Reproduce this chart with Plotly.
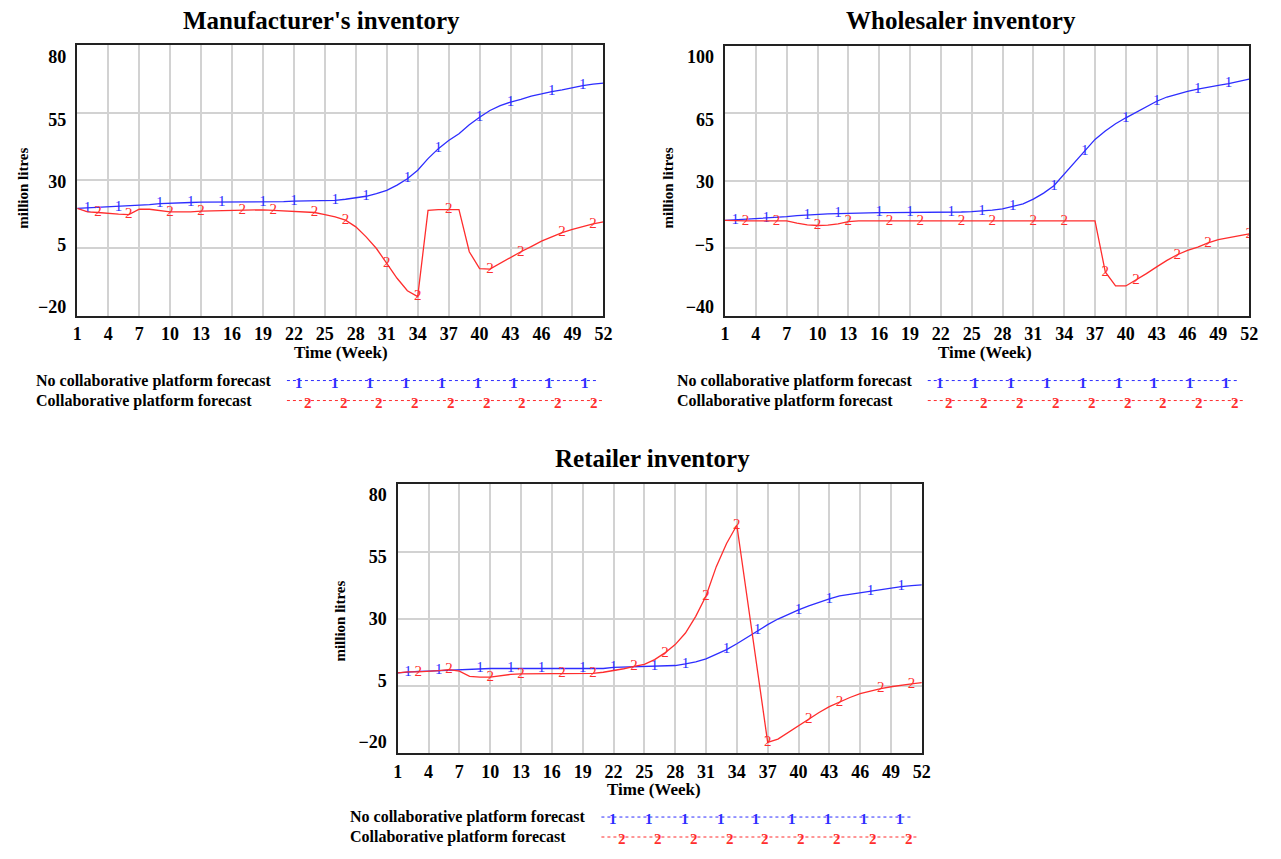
import plotly.graph_objects as go

weeks = list(range(1, 53))

# Manufacturer's inventory (million litres)
manu_no_collab = [19.6, 19.8, 19.9, 20.0, 20.2, 20.4, 20.7, 21.0, 21.4, 21.6, 21.7, 21.8, 21.9,
                  21.9, 21.9, 21.9, 21.9, 21.9, 21.9, 22.0, 22.1, 22.3, 22.4, 22.5, 22.5, 22.6,
                  23.0, 23.5, 24.1, 25.1, 26.3, 28.2, 30.6, 33.7, 38.0, 41.7, 44.7, 47.2, 50.5,
                  53.3, 55.8, 57.6, 58.9, 59.9, 61.1, 61.9, 62.8, 63.4, 64.2, 65.0, 65.5, 65.9]
manu_collab = [19.6, 18.3, 18.1, 17.7, 17.5, 17.3, 19.3, 19.3, 18.9, 18.3, 18.3, 18.3, 18.6,
               18.7, 18.8, 18.9, 19.1, 19.1, 19.1, 18.9, 18.7, 18.6, 18.4, 18.1, 17.3, 16.5,
               15.3, 12.8, 9.1, 4.8, -0.7, -6.2, -10.8, -13.0, 18.9, 19.2, 19.2, 19.2, 3.6,
               -2.6, -2.8, -0.7, 1.7, 3.6, 5.5, 7.5, 9.1, 10.7, 11.9, 13.0, 13.9, 14.6]

# Wholesaler inventory (million litres)
whole_no_collab = [9.4, 9.7, 10.0, 10.3, 10.6, 11.0, 11.4, 11.9, 12.3, 12.6, 12.8, 13.0, 13.2,
                   13.3, 13.4, 13.5, 13.5, 13.5, 13.5, 13.6, 13.6, 13.7, 13.7, 13.8, 14.0, 14.3,
                   14.8, 15.4, 16.6, 18.0, 20.5, 23.6, 27.4, 33.4, 39.5, 45.5, 51.5, 55.8, 59.6,
                   62.7, 65.6, 68.7, 71.3, 73.5, 75.1, 76.4, 77.6, 78.7, 79.5, 80.4, 81.6, 82.8]
whole_collab = [9.4, 9.2, 9.2, 9.2, 9.2, 9.2, 9.2, 8.0, 7.1, 6.8, 7.0, 7.6, 8.8,
                9.2, 9.2, 9.2, 9.2, 9.2, 9.2, 9.2, 9.2, 9.2, 9.2, 9.2, 9.2, 9.2,
                9.2, 9.2, 9.2, 9.2, 9.2, 9.2, 9.2, 9.2, 9.2, 9.2, 9.2, -17.3, -24.6,
                -24.6, -21.6, -18.2, -14.7, -11.3, -8.4, -6.1, -4.4, -2.2, -0.6, 0.4, 1.3, 2.5]

# Retailer inventory (million litres)
retail_no_collab = [9.9, 10.2, 10.4, 10.5, 10.7, 10.9, 11.1, 11.3, 11.5, 11.5, 11.5, 11.5, 11.5,
                    11.5, 11.5, 11.5, 11.5, 11.5, 11.5, 11.5, 11.5, 11.9, 12.0, 12.1, 12.1, 12.2,
                    12.4, 12.6, 13.2, 14.0, 15.1, 16.7, 18.5, 20.7, 23.1, 25.6, 27.8, 29.9, 31.7,
                    33.3, 34.8, 36.2, 37.4, 38.5, 39.1, 39.8, 40.4, 41.0, 41.5, 42.0, 42.3, 42.6]
retail_collab = [9.9, 10.2, 10.2, 10.4, 10.7, 11.1, 10.5, 8.6, 8.3, 8.3, 8.9, 9.3, 9.5,
                 9.6, 9.6, 9.6, 9.6, 9.6, 9.6, 9.7, 10.1, 10.7, 11.4, 12.3, 13.0, 14.8,
                 17.3, 20.4, 24.7, 30.9, 38.5, 49.4, 58.0, 64.8, 37.9, 11.1, -16.0, -14.8, -12.3,
                 -9.6, -7.4, -4.9, -2.7, -0.9, 0.7, 2.1, 3.1, 4.0, 4.7, 5.3, 5.8, 6.2]

# Weeks carrying the "1" / "2" line labels
manu_marks_1 = [2, 5, 9, 12, 15, 19, 22, 26, 29, 33, 36, 40, 43, 47, 50]
manu_marks_2 = [3, 6, 10, 13, 17, 20, 24, 27, 31, 34, 37, 41, 44, 48, 51]
whole_marks_1 = [2, 5, 9, 12, 16, 19, 23, 26, 29, 33, 36, 40, 43, 47, 50]
whole_marks_2 = [3, 6, 10, 13, 17, 20, 24, 27, 31, 34, 38, 41, 45, 48, 52]
retail_marks_1 = [2, 5, 9, 12, 15, 19, 22, 26, 29, 33, 36, 40, 43, 47, 50]
retail_marks_2 = [3, 6, 10, 13, 17, 20, 24, 27, 31, 34, 37, 41, 44, 48, 51]

x_ticks = list(range(1, 53, 3))
manu_yticks = [-20, 5, 30, 55, 80]
whole_yticks = [-40, -5, 30, 65, 100]
retail_yticks = [-20, 5, 30, 55, 80]

titles = ["Manufacturer's inventory", "Wholesaler inventory", "Retailer inventory"]
series_names = ["No collaborative platform forecast", "Collaborative platform forecast"]
x_title = "Time (Week)"
y_title = "million litres"

BLUE = "rgb(45,45,255)"
RED = "rgb(255,45,45)"
GRID = "#d2d2d2"
SERIF = "Liberation Serif"

# page body has an 8px margin: the figure is placed at (8, 8)
OFF = 8
FW, FH = 1281 - 2 * OFF, 859 - 2 * OFF


def px(x):
    return (x - OFF) / FW


def py(y):
    return 1 - (y - OFF) / FH


fig = go.Figure()

panels = [
    dict(no=manu_no_collab, co=manu_collab, m1=manu_marks_1, m2=manu_marks_2, yt=manu_yticks,
         box=(73, 605, 45, 316), lab=(57, 307)),
    dict(no=whole_no_collab, co=whole_collab, m1=whole_marks_1, m2=whole_marks_2, yt=whole_yticks,
         box=(728, 1258, 46, 316), lab=(57, 307)),
    dict(no=retail_no_collab, co=retail_collab, m1=retail_marks_1, m2=retail_marks_2, yt=retail_yticks,
         box=(397, 927, 485, 754), lab=(495, 743)),
]

layout_axes = {}
for i, p in enumerate(panels):
    xa = "x" if i == 0 else f"x{i+1}"
    ya = "y" if i == 0 else f"y{i+1}"
    ya_lab = f"y{i+4}"
    x0, x1, y0, y1 = p["box"]
    dom_x = [px(x0), px(x1)]
    dom_y = [py(y1), py(y0)]
    lo, hi = p["yt"][0], p["yt"][-1]

    for vals, marks, col, txt in [(p["no"], p["m1"], BLUE, "1"), (p["co"], p["m2"], RED, "2")]:
        fig.add_trace(go.Scatter(x=weeks, y=vals, mode="lines", line=dict(color=col, width=1.3),
                                 xaxis=xa, yaxis=ya, showlegend=False, hoverinfo="skip"))
        fig.add_trace(go.Scatter(x=marks, y=[vals[w - 1] for w in marks], mode="text", text=[txt] * len(marks),
                                 textposition="middle center",
                                 textfont=dict(family=SERIF, size=15, color=col),
                                 xaxis=xa, yaxis=ya, showlegend=False, hoverinfo="skip"))
    # dummy trace for the label axis
    fig.add_trace(go.Scatter(x=[None], y=[None], mode="lines", xaxis=xa, yaxis=ya_lab,
                             showlegend=False, hoverinfo="skip"))

    # label axis range so that labels sit where the original put them
    la, lb = p["lab"]
    per_px = (hi - lo) / (lb - la)
    lab_hi = hi + (la - y0) * per_px
    lab_lo = lo - (y1 - lb) * per_px

    key_x = "xaxis" if i == 0 else f"xaxis{i+1}"
    key_y = "yaxis" if i == 0 else f"yaxis{i+1}"
    key_yl = f"yaxis{i+4}"
    layout_axes[key_x] = dict(domain=dom_x, range=[1, 52], tickvals=x_ticks, showgrid=True,
                              gridcolor=GRID, gridwidth=1.5, zeroline=False,
                              showline=True, linecolor="#222", linewidth=2, mirror=True,
                              ticks="", ticklabelstandoff=1,
                              tickfont=dict(family=SERIF, size=18, color="black", weight="bold"),
                              anchor=ya)
    layout_axes[key_y] = dict(domain=dom_y, range=[lo, hi],
                              tickvals=[lo + (hi - lo) * k / 4 for k in (1, 2, 3)],
                              showticklabels=False, showgrid=True, gridcolor=GRID, gridwidth=1.5,
                              zeroline=False, showline=True, linecolor="#222", linewidth=2,
                              mirror=True, ticks="", anchor=xa)
    layout_axes[key_yl] = dict(overlaying=ya, anchor=xa, side="left", range=[lab_lo, lab_hi],
                               tickvals=p["yt"], showgrid=False, zeroline=False, showline=False,
                               ticks="", ticklabelstandoff=10,
                               tickfont=dict(family=SERIF, size=18, color="black", weight="bold"))

annotations = []
title_pos = [(320, 21), (967, 21), (655, 459)]
xt_pos = [(340, 353), (991, 353), (656, 790)]
yt_pos = [(18, 188), (670, 188), (339, 622)]
for (tx, ty), t in zip(title_pos, titles):
    annotations.append(dict(x=px(tx), y=py(ty), xref="paper", yref="paper", text=t, showarrow=False,
                            xanchor="center", yanchor="middle",
                            font=dict(family=SERIF, size=25, color="black", weight="bold")))
for tx, ty in xt_pos:
    annotations.append(dict(x=px(tx), y=py(ty), xref="paper", yref="paper", text=x_title,
                            showarrow=False, xanchor="center", yanchor="middle",
                            font=dict(family=SERIF, size=17, color="black", weight="bold")))
for tx, ty in yt_pos:
    annotations.append(dict(x=px(tx), y=py(ty), xref="paper", yref="paper", text=y_title,
                            showarrow=False, xanchor="center", yanchor="middle", textangle=-90,
                            font=dict(family=SERIF, size=15, color="black", weight="bold")))

# custom legends (text + dotted key lines carrying the series numbers)
legend_origins = [(29, 381), (677, 381), (347, 818)]
shapes = []
for ox, oy in legend_origins:
    for row, (name, col, txt) in enumerate([(series_names[0], BLUE, "1"), (series_names[1], RED, "2")]):
        yy = oy + row * 20
        annotations.append(dict(x=px(ox), y=py(yy), xref="paper", yref="paper", text=name,
                                showarrow=False, xanchor="left", yanchor="middle",
                                font=dict(family=SERIF, size=16, color="black", weight="bold")))
        lx0 = ox + 256
        lx1 = ox + (571 if row == 0 else 577)
        shapes.append(dict(type="line", xref="paper", yref="paper", x0=px(lx0), x1=px(lx1),
                           y0=py(yy), y1=py(yy), line=dict(color=col, width=1, dash="dot")))
        start = ox + (268 if row == 0 else 277)
        for k in range(9):
            mx = start + k * 36.2
            annotations.append(dict(x=px(mx), y=py(yy + 2), xref="paper", yref="paper", text=txt,
                                    showarrow=False, xanchor="center", yanchor="middle",
                                    font=dict(family=SERIF, size=15, color=col, weight="bold")))

fig.update_layout(width=FW, height=FH, margin=dict(l=0, r=0, t=0, b=0),
                  plot_bgcolor="white", paper_bgcolor="white", showlegend=False,
                  annotations=annotations, shapes=shapes, **layout_axes)

fig.write_html("out.html")
